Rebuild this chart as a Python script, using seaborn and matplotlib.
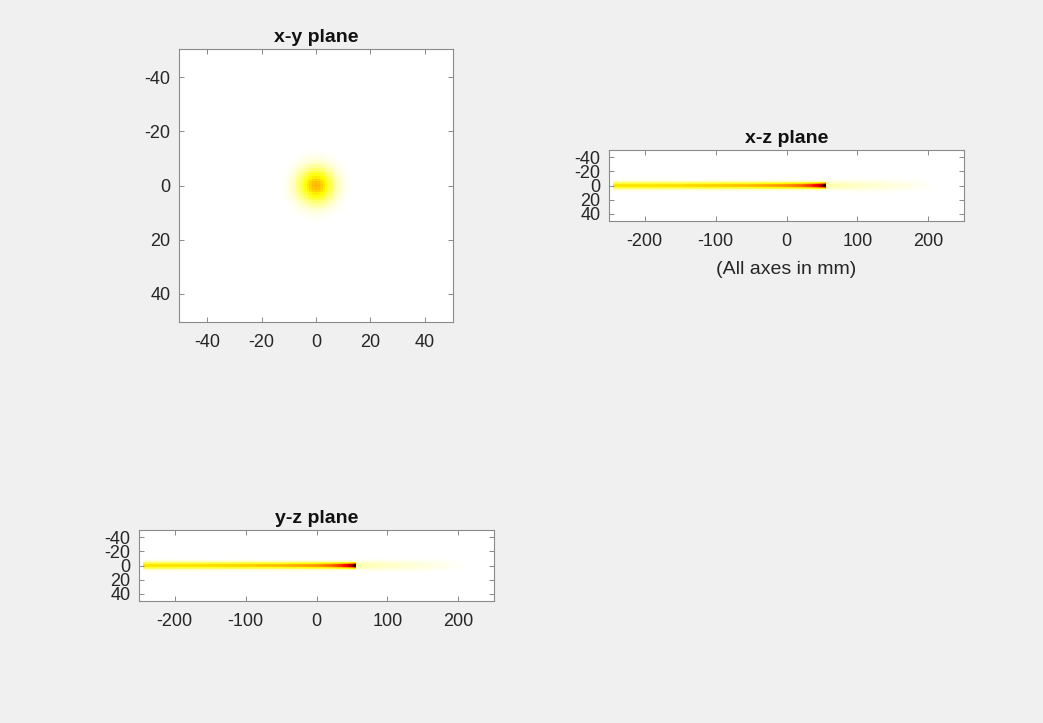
import numpy as np
import pandas as pd
import matplotlib
matplotlib.use("Agg")
import matplotlib.pyplot as plt
import seaborn as sns

# ---- data -------------------------------------------------------------
# sampling grids (mm)
z_grid = np.arange(-250, 251, 1)
t_grid = np.arange(-50, 51, 1)

# on-axis normalised intensity along the beam, up to the focus
z_beam = [-245, -200, -150, -100, -50, 0, 20, 35, 45, 50, 55]
i_beam = [0.30, 0.30, 0.31, 0.33, 0.36, 0.42, 0.48, 0.58, 0.70, 0.82, 1.00]
w_beam = [3.4, 3.4, 3.3, 3.3, 3.2, 3.1, 3.0, 2.9, 2.8, 2.7, 2.6]

# weak transmitted tail beyond the focus
z_tail = [56, 80, 120, 160, 190, 220]
i_tail = [0.085, 0.070, 0.050, 0.030, 0.014, 0.0]
w_tail = [4.0, 4.5, 5.0, 5.5, 5.5, 5.5]

# transverse spot in the x-y plane
spot_peak = 0.36
spot_sigma = 4.5

tick_vals = [-40, -20, 0, 20, 40]
z_ticks = [-200, -100, 0, 100, 200]
titles = ["x-y plane", "x-z plane", "y-z plane"]
axis_note = "(All axes in mm)"


def beam_plane():
    on_axis = np.where(
        z_grid <= z_beam[-1],
        np.interp(z_grid, z_beam, i_beam, left=0.0, right=0.0),
        np.interp(z_grid, z_tail, i_tail, left=0.0, right=0.0),
    )
    width = np.where(
        z_grid <= z_beam[-1],
        np.interp(z_grid, z_beam, w_beam),
        np.interp(z_grid, z_tail, w_tail),
    )
    field = on_axis[None, :] * np.exp(-0.5 * (t_grid[:, None] / width[None, :]) ** 2)
    return pd.DataFrame(field, index=t_grid, columns=z_grid)


def spot_plane():
    r2 = t_grid[None, :] ** 2 + t_grid[:, None] ** 2
    field = spot_peak * np.exp(-0.5 * r2 / spot_sigma ** 2)
    return pd.DataFrame(field, index=t_grid, columns=t_grid)


# ---- figure -----------------------------------------------------------
sns.set_style("ticks")
plt.rcParams["font.family"] = ["Liberation Sans", "DejaVu Sans"]

W, H = 1043, 723
fig = plt.figure(figsize=(W / 100, H / 100), dpi=100, facecolor="#f0f0f0")


def px_axes(left, top, width, height):
    return fig.add_axes([left / W, 1 - (top + height) / H, width / W, height / H])


def style(ax, data, xt, yt, title):
    x0 = data.columns[0]
    y0 = data.index[0]
    ax.set_axisbelow(False)
    ax.set_xticks([v - x0 + 0.5 for v in xt])
    ax.set_xticklabels([str(v) for v in xt])
    ax.set_yticks([v - y0 + 0.5 for v in yt])
    ax.set_yticklabels([str(v) for v in yt], rotation=0)
    ax.tick_params(direction="in", top=True, right=True, length=3.5, width=0.7,
                   color="#8a8a8a", labelsize=13, labelcolor="#262626")
    ax.tick_params(axis="x", pad=8.5)
    ax.tick_params(axis="y", pad=6)
    for s in ax.spines.values():
        s.set_visible(True)
        s.set_color("#8a8a8a")
        s.set_linewidth(0.8)
        s.set_zorder(5)
    ax.set_xlabel("")
    ax.set_ylabel("")
    ax.set_title(title, fontsize=14, fontweight="bold", color="#111111", pad=5)


kw = dict(cmap="hot_r", vmin=0, vmax=1, cbar=False,
          xticklabels=False, yticklabels=False, rasterized=True)

# x-y plane
ax1 = px_axes(179, 49, 274, 273)
xy = spot_plane()
sns.heatmap(xy, ax=ax1, **kw)
style(ax1, xy, tick_vals, tick_vals, titles[0])
ax1.set_aspect("auto")

# x-z plane
ax2 = px_axes(609, 150, 355, 71)
xz = beam_plane()
sns.heatmap(xz, ax=ax2, **kw)
style(ax2, xz, z_ticks, tick_vals, titles[1])
ax2.set_aspect("auto")
ax2.set_xlabel(axis_note, fontsize=14, color="#262626", labelpad=8)

# y-z plane
ax3 = px_axes(139, 530, 355, 71)
yz = beam_plane()
sns.heatmap(yz, ax=ax3, **kw)
style(ax3, yz, z_ticks, tick_vals, titles[2])
ax3.set_aspect("auto")

fig.savefig("out.png", dpi=100, facecolor=fig.get_facecolor())
